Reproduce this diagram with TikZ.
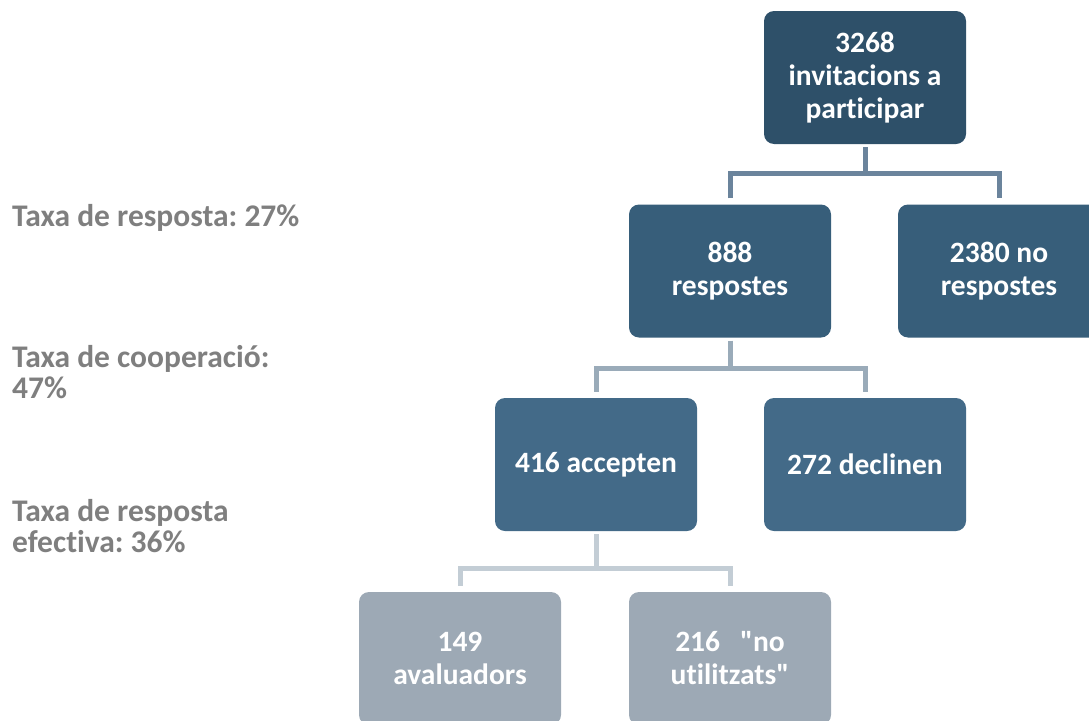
\documentclass[tikz,border=0pt]{standalone}
\usepackage{fontspec}
\setmainfont{Carlito}[Ligatures={TeXOff,NoCommon}]
\definecolor{cTop}{HTML}{2E5069}
\definecolor{cL2}{HTML}{375E7A}
\definecolor{cL3}{HTML}{436A88}
\definecolor{cL4}{HTML}{9DA9B5}
\definecolor{cC1}{HTML}{6B849C}
\definecolor{cC2}{HTML}{9AABB9}
\definecolor{cC3}{HTML}{C3CDD5}
\definecolor{cTxt}{HTML}{7F7F7F}
\tikzset{
  box/.style={rectangle, rounded corners=10pt, minimum width=202pt, minimum height=133pt,
    inner sep=0pt, text=white, align=center, font=\fontsize{29.5}{33}\selectfont\bfseries},
  conn/.style={line width=5pt},
  rate/.style={anchor=west, align=left, text=cTxt, inner sep=0pt,
    font=\fontsize{31.5}{31}\selectfont\bfseries}
}
\frenchspacing
\begin{document}
\begin{tikzpicture}[x=1pt,y=-1pt]
\useasboundingbox (0,0) rectangle (1089,720);
\begin{scope}
\clip (0,0) rectangle (1089,720);
\node[box, fill=cTop] (t) at (865,77.5) {3268\\invitacions a\\participar};
\node[box, fill=cL2] (a) at (730,271) {888\\respostes};
\node[box, fill=cL2] (b) at (999,271) {2380 no\\respostes};
\node[box, fill=cL3] (c) at (596,464.5) {416 accepten};
\node[box, fill=cL3] (d) at (865,464.5) {272 declinen};
\node[box, fill=cL4] (e) at (460,658.5) {149\\avaluadors};
\node[box, fill=cL4] (f) at (730,658.5) {216\ \ \ "no\\utilitzats"};
\end{scope}
\coordinate (j1) at ([yshift=-29pt]t.south);
\coordinate (j2) at ([yshift=-31pt]a.south);
\coordinate (j3) at ([yshift=-37pt]c.south);
\draw[conn, cC1] ([yshift=-3pt]t.south) -- (j1);
\draw[conn, cC1] ([yshift=6pt]a.north) |- (j1) -| ([yshift=6pt]b.north);
\draw[conn, cC2] ([yshift=-3pt]a.south) -- (j2);
\draw[conn, cC2] ([yshift=6pt]c.north) |- (j2) -| ([yshift=6pt]d.north);
\draw[conn, cC3] ([yshift=-3pt]c.south) -- (j3);
\draw[conn, cC3] ([yshift=6pt]e.north) |- (j3) -| ([yshift=6pt]f.north);
\node[rate] (r1) at (12,218) {Taxa de resposta: 27\%};
\node[rate] (r2) at (12,372) {Taxa de cooperació:\\47\%};
\node[rate] (r3) at (12,526) {Taxa de resposta\\efectiva: 36\%};
\end{tikzpicture}
\end{document}
